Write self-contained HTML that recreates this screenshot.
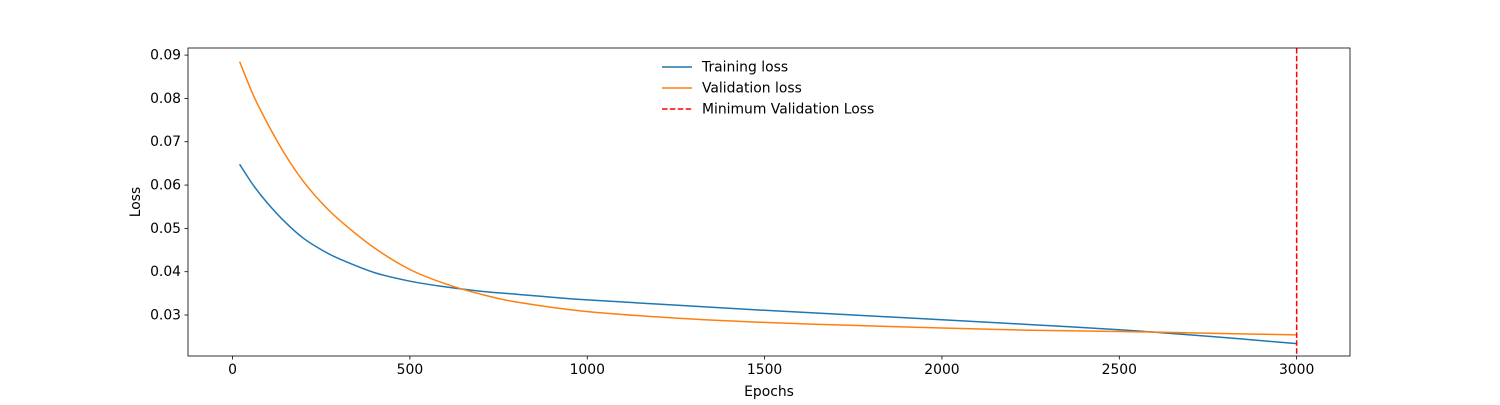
<!DOCTYPE html>
<html><head><meta charset="utf-8"><style>
body{margin:0;background:#fff;}
svg text{font-family:"DejaVu Sans","Liberation Sans",sans-serif;font-size:13.9px;fill:#000;}
</style></head><body>
<svg id="chart" width="1500" height="400" xmlns="http://www.w3.org/2000/svg">
<rect x="0" y="0" width="1500" height="400" fill="#fff"/>
<g id="marks"></g>
<g id="axes"></g>
</svg>
<script>
const epochs=[20,60,100,150,200,250,300,400,500,600,700,800,1000,1250,1500,1750,2000,2250,2500,2750,3000];
const trainLoss=[0.0648,0.0598,0.0557,0.0513,0.0477,0.0451,0.0430,0.0398,0.0378,0.0365,0.0355,0.0348,0.0335,0.0323,0.0311,0.0300,0.0289,0.0278,0.0266,0.0251,0.0234];
const valLoss=[0.0885,0.0805,0.0740,0.0668,0.0608,0.0560,0.0520,0.0455,0.0405,0.0372,0.0348,0.0330,0.0308,0.0293,0.0283,0.0276,0.0270,0.0265,0.0262,0.0258,0.0254];
const minEpoch=3000;
const xTicks=[0,500,1000,1500,2000,2500,3000];
const yTicks=[0.03,0.04,0.05,0.06,0.07,0.08,0.09];
const L=188,R=1350,T=48,B=356;
const xMin=-125.6,xMax=3150.4,yMin=0.02054,yMax=0.09164;
const xs=v=>L+(v-xMin)/(xMax-xMin)*(R-L);
const ys=v=>B-(v-yMin)/(yMax-yMin)*(B-T);
const NS="http://www.w3.org/2000/svg";
const marks=document.getElementById('marks'),axes=document.getElementById('axes');
function mk(tag,attrs,parent){const e=document.createElementNS(NS,tag);for(const k in attrs)e.setAttribute(k,attrs[k]);parent.appendChild(e);return e;}
function smoothPath(pts){
  let d='M'+pts[0][0].toFixed(1)+','+pts[0][1].toFixed(1);
  for(let i=0;i<pts.length-1;i++){
    const p0=pts[Math.max(0,i-1)],p1=pts[i],p2=pts[i+1],p3=pts[Math.min(pts.length-1,i+2)];
    const c1=[p1[0]+(p2[0]-p0[0])/6,p1[1]+(p2[1]-p0[1])/6];
    const c2=[p2[0]-(p3[0]-p1[0])/6,p2[1]-(p3[1]-p1[1])/6];
    d+='C'+c1[0].toFixed(1)+','+c1[1].toFixed(1)+' '+c2[0].toFixed(1)+','+c2[1].toFixed(1)+' '+p2[0].toFixed(1)+','+p2[1].toFixed(1);
  }
  return d;
}
function line(vals,color,name){
  const pts=vals.map((v,i)=>[xs(epochs[i]),ys(v)]);
  const p=mk('path',{d:smoothPath(pts),fill:'none',stroke:color,'stroke-width':1.5},marks);
  
  
}
line(trainLoss,'#1f77b4','training-loss-line');
line(valLoss,'#ff7f0e','validation-loss-line');
const mv=mk('line',{x1:xs(minEpoch),x2:xs(minEpoch),y1:T,y2:B,stroke:'#ff0000','stroke-width':1.5,'stroke-dasharray':'5.5,2.4'},marks);


const frame=mk('rect',{x:L,y:T,width:R-L,height:B-T,fill:'none',stroke:'#000','stroke-width':0.8},axes);


xTicks.forEach(t=>{
  const x=xs(t);
  const tk=mk('line',{x1:x,x2:x,y1:B,y2:B+3.5,stroke:'#000','stroke-width':0.8},axes);
  
  
  const tx=mk('text',{x:x,y:B+18,'text-anchor':'middle'},axes);tx.textContent=t;
  
  
});
yTicks.forEach(t=>{
  const y=ys(t);
  const tk=mk('line',{x1:L-3.5,x2:L,y1:y,y2:y,stroke:'#000','stroke-width':0.8},axes);
  
  
  const tx=mk('text',{x:L-7,y:y+4.5,'text-anchor':'end'},axes);tx.textContent=t.toFixed(2);
  
  
});
const xt=mk('text',{x:(L+R)/2,y:396,'text-anchor':'middle'},axes);xt.textContent='Epochs';


const yt=mk('text',{x:140,y:(T+B)/2,'text-anchor':'middle',transform:`rotate(-90 140 ${(T+B)/2})`},axes);yt.textContent='Loss';


const legendItems=[['Training loss','#1f77b4',''],['Validation loss','#ff7f0e',''],['Minimum Validation Loss','#ff0000','5.5,2.4']];
legendItems.forEach((it,i)=>{
  const y=67+i*21;
  const g=mk('g',{},axes);
  
  
  const a={x1:662,x2:692,y1:y,y2:y,stroke:it[1],'stroke-width':1.5};
  if(it[2])a['stroke-dasharray']=it[2];
  mk('line',a,g);
  const tx=mk('text',{x:702,y:y+4.5},g);tx.textContent=it[0];
});
</script>
</body></html>
